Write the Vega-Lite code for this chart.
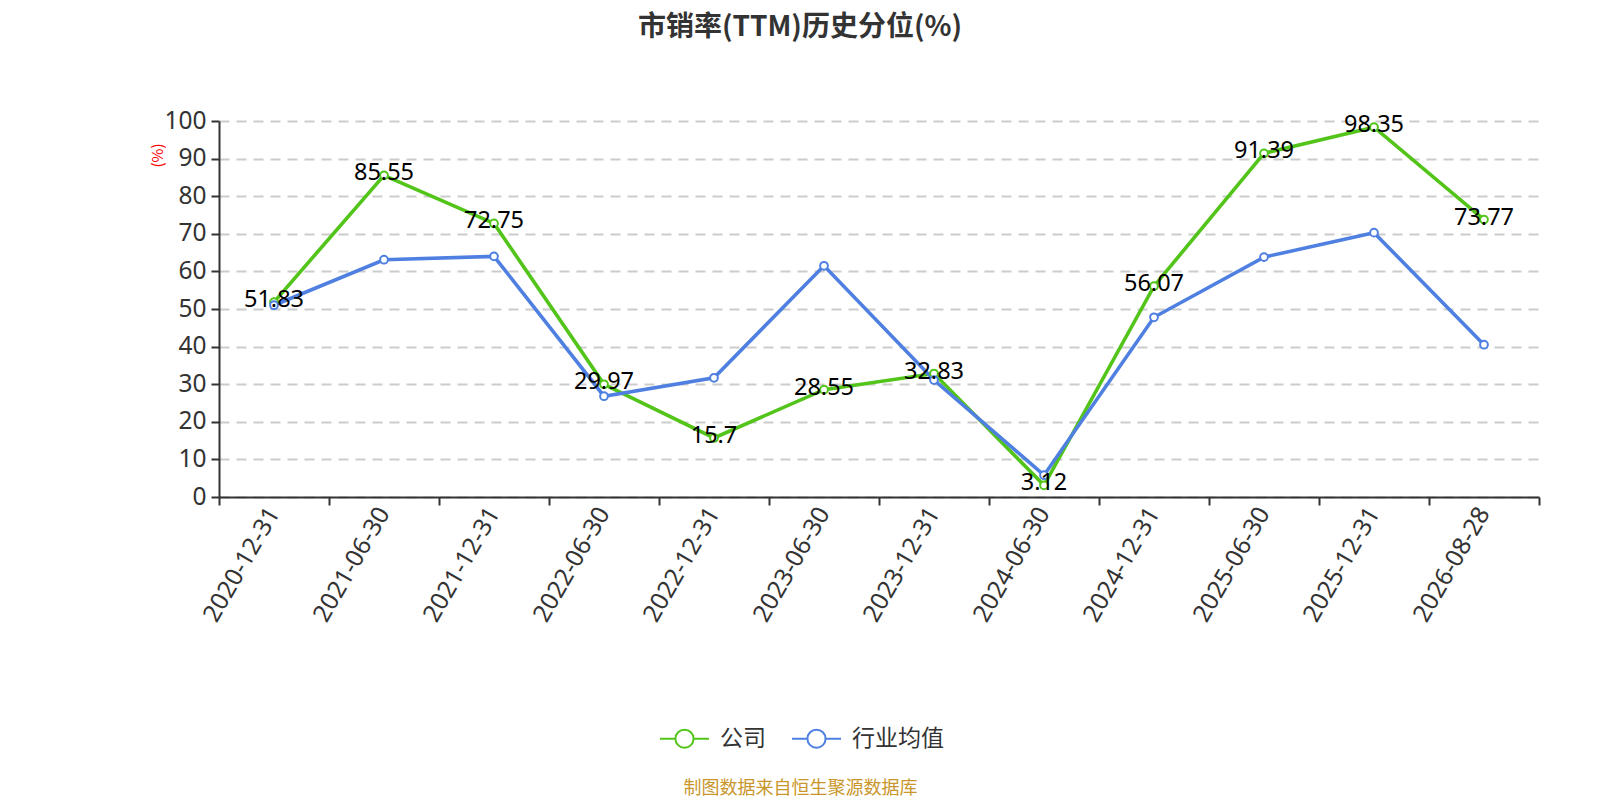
{
  "$schema": "https://vega.github.io/schema/vega-lite/v6.json",
  "autosize": "none",
  "width": 1320,
  "height": 376,
  "padding": {"left": 219, "top": 121, "right": 61, "bottom": 303},
  "background": "white",
  "config": {"view": {"stroke": null}},
  "title": {
    "text": "市销率(TTM)历史分位(%)",
    "font": "Noto Sans CJK SC",
    "fontSize": 28,
    "fontWeight": "bold",
    "color": "#333333",
    "anchor": "middle",
    "dx": -79,
    "offset": 66
  },
  "data": {
    "values": [
      {"date": "2020-12-31", "series": "公司", "value": 51.83},
      {"date": "2021-06-30", "series": "公司", "value": 85.55},
      {"date": "2021-12-31", "series": "公司", "value": 72.75},
      {"date": "2022-06-30", "series": "公司", "value": 29.97},
      {"date": "2022-12-31", "series": "公司", "value": 15.7},
      {"date": "2023-06-30", "series": "公司", "value": 28.55},
      {"date": "2023-12-31", "series": "公司", "value": 32.83},
      {"date": "2024-06-30", "series": "公司", "value": 3.12},
      {"date": "2024-12-31", "series": "公司", "value": 56.07},
      {"date": "2025-06-30", "series": "公司", "value": 91.39},
      {"date": "2025-12-31", "series": "公司", "value": 98.35},
      {"date": "2026-08-28", "series": "公司", "value": 73.77},
      {"date": "2020-12-31", "series": "行业均值", "value": 51.0},
      {"date": "2021-06-30", "series": "行业均值", "value": 63.1},
      {"date": "2021-12-31", "series": "行业均值", "value": 64.0},
      {"date": "2022-06-30", "series": "行业均值", "value": 26.8},
      {"date": "2022-12-31", "series": "行业均值", "value": 31.7},
      {"date": "2023-06-30", "series": "行业均值", "value": 61.5},
      {"date": "2023-12-31", "series": "行业均值", "value": 31.1},
      {"date": "2024-06-30", "series": "行业均值", "value": 5.8},
      {"date": "2024-12-31", "series": "行业均值", "value": 47.8},
      {"date": "2025-06-30", "series": "行业均值", "value": 63.8},
      {"date": "2025-12-31", "series": "行业均值", "value": 70.3},
      {"date": "2026-08-28", "series": "行业均值", "value": 40.5}
    ]
  },
  "encoding": {
    "x": {
      "field": "date",
      "type": "nominal",
      "bandPosition": 0.5,
      "scale": {"type": "band", "paddingInner": 0, "paddingOuter": 0},
      "axis": {
        "title": "制图数据来自恒生聚源数据库",
        "titleFont": "Noto Sans CJK SC",
        "titleFontSize": 18,
        "titleFontWeight": "normal",
        "titleColor": "#c9962c",
        "titleX": 581,
        "titleY": 291,
        "titleAlign": "center",
        "titleBaseline": "middle",
        "labelAngle": -60,
        "labelAlign": "right",
        "labelBaseline": "middle",
        "labelFont": "Noto Sans",
        "labelFontSize": 24.5,
        "labelColor": "#333333",
        "labelPadding": 4,
        "tickBand": "extent",
        "tickSize": 8,
        "tickColor": "#333333",
        "tickWidth": 2,
        "domainColor": "#333333",
        "domainWidth": 2,
        "grid": false
      }
    },
    "y": {
      "field": "value",
      "type": "quantitative",
      "scale": {"domain": [0, 100], "nice": false},
      "axis": {
        "title": "(%)",
        "titleFont": "Noto Sans CJK SC",
        "titleFontSize": 15,
        "titleFontWeight": "normal",
        "titleColor": "#ff0000",
        "titleX": -62,
        "titleY": 34,
        "titleAlign": "center",
        "titleBaseline": "middle",
        "titleAngle": -90,
        "values": [0, 10, 20, 30, 40, 50, 60, 70, 80, 90, 100],
        "labelFont": "Noto Sans",
        "labelFontSize": 24.5,
        "labelColor": "#333333",
        "labelPadding": 5,
        "tickSize": 8,
        "tickColor": "#333333",
        "tickWidth": 2,
        "domainColor": "#333333",
        "domainWidth": 2,
        "grid": true,
        "gridColor": "#cccccc",
        "gridWidth": 2,
        "gridDash": [10, 7]
      }
    }
  },
  "layer": [
    {
      "mark": {"type": "line", "strokeWidth": 3.6},
      "encoding": {
        "color": {
          "field": "series",
          "type": "nominal",
          "scale": {"domain": ["公司", "行业均值"], "range": ["#52c41a", "#4f80e1"]},
          "legend": {
            "title": null,
            "orient": "none",
            "direction": "horizontal",
            "legendX": 440,
            "legendY": 592,
            "symbolType": "M-1,0L-0.37,0M0.37,0L1,0M-0.37,0A0.37,0.37,0,1,1,0.37,0A0.37,0.37,0,1,1,-0.37,0Z",
            "symbolSize": 2401,
            "symbolStrokeWidth": 2,
            "symbolFillColor": "#ffffff",
            "labelFont": "Noto Sans CJK SC",
            "labelFontSize": 23,
            "labelColor": "#333333",
            "labelOffset": 10,
            "columnPadding": 22
          }
        }
      }
    },
    {
      "mark": {"type": "point", "shape": "circle", "filled": true, "fill": "#ffffff", "size": 60, "strokeWidth": 2, "opacity": 1},
      "encoding": {
        "stroke": {
          "field": "series",
          "type": "nominal",
          "scale": {"domain": ["公司", "行业均值"], "range": ["#52c41a", "#4f80e1"]},
          "legend": null
        }
      }
    },
    {
      "transform": [{"filter": "datum.series === '公司'"}],
      "mark": {"type": "text", "font": "Noto Sans", "fontSize": 23.5, "color": "#000000", "baseline": "middle", "align": "center", "dy": -2},
      "encoding": {
        "text": {"field": "value", "type": "quantitative"}
      }
    }
  ]
}
